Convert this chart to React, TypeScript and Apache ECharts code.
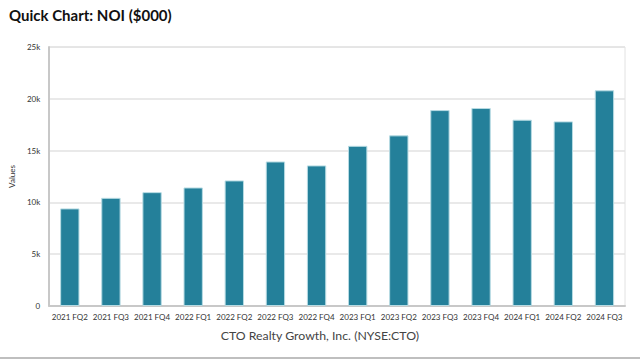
import React, { useEffect, useRef } from "react";
import * as echarts from "echarts";

const categories = [
  "2021 FQ2", "2021 FQ3", "2021 FQ4", "2022 FQ1", "2022 FQ2", "2022 FQ3", "2022 FQ4",
  "2023 FQ1", "2023 FQ2", "2023 FQ3", "2023 FQ4", "2024 FQ1", "2024 FQ2", "2024 FQ3",
];
const noiValues = [
  9420, 10440, 10990, 11440, 12120, 13950, 13570,
  15460, 16470, 18910, 19110, 17980, 17820, 20820,
];
const yTicks = [0, 5000, 10000, 15000, 20000, 25000];

export default function App() {
  const ref = useRef<HTMLDivElement>(null);
  useEffect(() => {
    if (!ref.current) return;
    const chart = echarts.init(ref.current, undefined, { renderer: "svg" });
    chart.setOption({
      animation: false,
      backgroundColor: "#ffffff",
      title: {
        text: "Quick Chart: NOI ($000)",
        left: 4,
        top: 2,
        textStyle: { fontFamily: "Lato", fontWeight: "bold", fontSize: 15, color: "#111" },
      },
      grid: {
        left: 49,
        right: 15,
        top: 47,
        bottom: 56,
        show: true,
        borderColor: "#e2e2e2",
        borderWidth: 1,
      },
      xAxis: {
        type: "category",
        data: categories,
        axisLine: { show: true, lineStyle: { color: "#c8c8c8", width: 2 } },
        axisTick: { show: false },
        axisLabel: { fontSize: 8, color: "#333", margin: 7, interval: 0, fontFamily: "Lato" },
      },
      yAxis: {
        type: "value",
        min: yTicks[0],
        max: yTicks[yTicks.length - 1],
        interval: 5000,
        name: "Values",
        nameLocation: "middle",
        nameGap: 30,
        nameTextStyle: { fontSize: 8, color: "#333", fontFamily: "Lato" },
        axisLine: { show: true, lineStyle: { color: "#c8c8c8", width: 2 } },
        axisTick: { show: false },
        splitLine: { lineStyle: { color: "#e2e2e2", width: 1.5 } },
        axisLabel: {
          fontSize: 8,
          color: "#333",
          margin: 9,
          fontFamily: "Lato",
          formatter: (v: number) => (v === 0 ? "0" : v / 1000 + "k"),
        },
      },
      series: [
        {
          type: "bar",
          data: noiValues,
          barWidth: "47%",
          itemStyle: { color: "#24809a", borderColor: "#b7dbe3", borderWidth: 1 },
        },
      ],
      graphic: [
        {
          type: "text",
          left: "center",
          top: 329,
          style: {
            text: "CTO Realty Growth, Inc. (NYSE:CTO)",
            fontSize: 12.3,
            fill: "#444",
            fontFamily: "Lato",
          },
        },
        {
          type: "line",
          shape: { x1: 0, y1: 358, x2: 640, y2: 358 },
          style: { stroke: "#aaaaaa", lineWidth: 1.5 },
        },
      ],
    });
    return () => chart.dispose();
  }, []);
  return (
    <div
      ref={ref}
      style={{ position: "fixed", left: 0, top: 0, width: 640, height: 362 }}
    />
  );
}
